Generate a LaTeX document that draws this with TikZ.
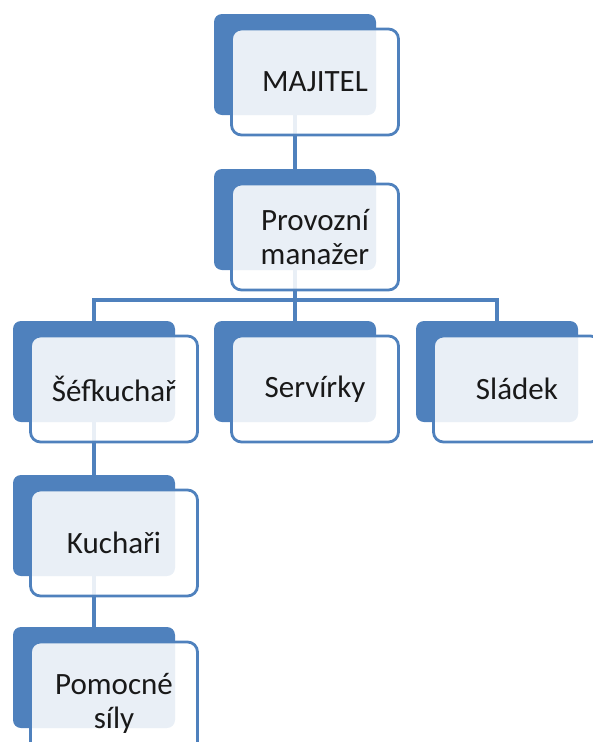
\documentclass[tikz,border=0pt]{standalone}
\usepackage{fontspec}
\setmainfont{Carlito}
\definecolor{accent}{HTML}{4F81BD}
\pgfdeclarelayer{background}
\pgfsetlayers{background,main}
\tikzset{
  backbox/.style={fill=accent, draw=none, rounded corners=8pt, minimum width=162pt, minimum height=101pt, inner sep=0pt, outer sep=0pt},
  frontbox/.style={fill=white, fill opacity=0.88, text opacity=1, draw=accent, draw opacity=1, line width=2.8pt, rounded corners=10pt, minimum width=167pt, minimum height=106pt, inner sep=2pt, align=center, font=\fontsize{31}{34}\selectfont, text=black!90},
  link/.style={draw=accent, line width=3.2pt}
}
\newcommand\orgunit[5][0]{%
  \node[backbox] (#2back) at (#3+81,#4+50.5) {};
  \node[frontbox, minimum height=106pt+#1pt] (#2) at (#3+101,#4+68+0.5*#1) {#5};
}
\begin{document}
\begin{tikzpicture}[x=1pt,y=-1pt]
\useasboundingbox (0,0) rectangle (592,742);
\orgunit{maj}{214}{14}{MAJITEL}
\orgunit{prov}{214}{169}{Provozní\\manažer}
\orgunit{sef}{13}{321}{Šéfkuchař}
\orgunit{serv}{214}{321}{Servírky}
\orgunit{slad}{416}{321}{Sládek}
\orgunit{kuch}{13}{475}{Kuchaři}
\orgunit[16]{pom}{13}{627}{Pomocné\\síly}
\coordinate (bus) at (295,300);
\begin{pgfonlayer}{background}
\draw[link] (majback.center) -- (provback.center);
\draw[link] (provback.center) -- (bus);
\draw[link] (sefback.center) |- (bus) -| (sladback.center);
\draw[link] (bus) -- (servback.center);
\draw[link] (sefback.center) -- (kuchback.center);
\draw[link] (kuchback.center) -- (pomback.center);
\end{pgfonlayer}
\end{tikzpicture}
\end{document}
